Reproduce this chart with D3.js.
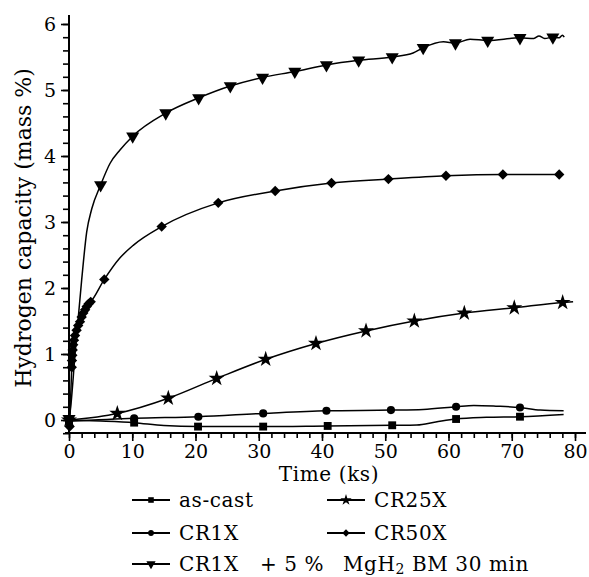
<!DOCTYPE html>
<html>
<head>
<meta charset="utf-8">
<script src="https://cdn.jsdelivr.net/npm/d3@7"></script>
<style>
  body { margin: 0; background: #fff; }
  svg text { font-family: 'DejaVu Serif', serif; fill: #000; }
</style>
</head>
<body>
<svg id="chart" width="589" height="577"></svg>
<script>
// marker points (time ks, capacity mass %) and extra curve-only points
const asCastMarks = [[0, 0], [10.3, -0.04], [20.4, -0.10], [30.7, -0.10], [40.9, -0.09], [51.1, -0.08], [61.2, 0.015], [71.3, 0.05]];
const asCastCurve = [[5, -0.015], [15, -0.085], [55, -0.075], [58, -0.03], [66, 0.04], [78.2, 0.085]];

const cr1Marks = [[0, -0.02], [10.3, 0.025], [20.45, 0.05], [30.7, 0.10], [40.7, 0.14], [50.9, 0.15], [61.2, 0.20], [71.3, 0.19]];
const cr1Curve = [[56, 0.16], [64, 0.22], [67.5, 0.21], [74.5, 0.15], [78.2, 0.14]];

const cr25Marks = [[0, 0], [7.64, 0.10], [15.7, 0.33], [23.35, 0.63], [31.1, 0.92], [39.05, 1.16], [46.96, 1.35], [54.6, 1.50], [62.5, 1.62], [70.4, 1.70], [78.05, 1.78]];
const cr25Curve = [[79.7, 1.79]];

const cr50Marks = [[0.1, -0.1], [0.43, 0.80], [0.47, 0.9], [0.52, 0.98], [0.58, 1.06], [0.66, 1.14], [0.79, 1.21], [0.95, 1.28], [1.2, 1.36], [1.45, 1.43], [1.74, 1.49], [2.0, 1.56], [2.26, 1.62], [2.55, 1.67], [2.8, 1.72], [3.1, 1.76], [3.43, 1.79], [5.58, 2.13], [14.65, 2.93], [23.6, 3.29], [32.6, 3.47], [41.5, 3.59], [50.5, 3.65], [59.6, 3.70], [68.6, 3.72], [77.5, 3.72]];
const cr50Curve = [[8, 2.45], [10.2, 2.65]];

const mgMarks = [[0, 0.02], [5.0, 3.56], [10.07, 4.30], [15.3, 4.65], [20.5, 4.88], [25.5, 5.06], [30.6, 5.19], [35.7, 5.28], [40.7, 5.38], [45.8, 5.45], [51.1, 5.50], [56.0, 5.64], [61.1, 5.71], [66.2, 5.75], [71.3, 5.79], [76.5, 5.80]];
const mgCurve = [[0.16, 0.11], [1.0, 1.05], [2.0, 2.12], [2.8, 2.85], [3.6, 3.2], [6.5, 3.89], [8.06, 4.09], [54.4, 5.56], [59.2, 5.73], [63.4, 5.77], [73.5, 5.78], [74.3, 5.82], [75.2, 5.78], [77.5, 5.79], [78.0, 5.83], [78.3, 5.80]];

const xMajor = [0, 10, 20, 30, 40, 50, 60, 70, 80];
const yMajor = [0, 1, 2, 3, 4, 5, 6];

const svg = d3.select('#chart');
const x = d3.scaleLinear().domain([0, 80]).range([69, 575]);
const y = d3.scaleLinear().domain([0, 6]).range([420, 24]);

// axes
const yMinor = d3.range(-1, 31).map(i => i * 0.2);
const xMinor = d3.range(0, 41).map(i => i * 2);

svg.append('g').attr('transform', 'translate(69,0)')
  .call(d3.axisLeft(y).tickValues(yMinor).tickSize(6).tickFormat(''))
  .call(g => g.select('.domain').remove())
  .call(g => g.selectAll('line').attr('stroke-width', 1.6));
svg.append('g').attr('transform', 'translate(69,0)')
  .call(d3.axisLeft(y).tickValues(yMajor).tickSize(8).tickPadding(5).tickFormat(d3.format('d')))
  .call(g => g.select('.domain').remove())
  .call(g => g.selectAll('line').attr('stroke-width', 1.6))
  .call(g => g.selectAll('text').style('font-size', '19px').style('font-family', "'DejaVu Serif', serif"));

svg.append('g').attr('transform', 'translate(0,433)')
  .call(d3.axisBottom(x).tickValues(xMinor).tickSize(5).tickFormat(''))
  .call(g => g.select('.domain').remove())
  .call(g => g.selectAll('line').attr('stroke-width', 1.6));
svg.append('g').attr('transform', 'translate(0,433)')
  .call(d3.axisBottom(x).tickValues(xMajor).tickSize(8).tickPadding(4).tickFormat(d3.format('d')))
  .call(g => g.select('.domain').remove())
  .call(g => g.selectAll('line').attr('stroke-width', 1.6))
  .call(g => g.selectAll('text').style('font-size', '19px').style('font-family', "'DejaVu Serif', serif"));

svg.append('line').attr('x1', 69).attr('x2', 69).attr('y1', 15).attr('y2', 434)
  .attr('stroke', '#000').attr('stroke-width', 2);
svg.append('line').attr('x1', 65).attr('x2', 586).attr('y1', 433).attr('y2', 433)
  .attr('stroke', '#000').attr('stroke-width', 2);

// axis titles
svg.append('text').attr('x', 329).attr('y', 481).attr('text-anchor', 'middle')
  .style('font-size', '20px').style('letter-spacing', '0.6px').text('Time (ks)');
svg.append('text').attr('transform', 'translate(31,228) rotate(-90)').attr('text-anchor', 'middle')
  .attr('fill', '#000').style('font-size', '22px').text('Hydrogen capacity (mass %)');

// series
const series = [
  { marks: asCastMarks, curve: asCastCurve, sym: d3.symbolSquare, size: 62, rot: 0 },
  { marks: cr1Marks, curve: cr1Curve, sym: d3.symbolCircle, size: 52, rot: 0 },
  { marks: cr25Marks, curve: cr25Curve, sym: d3.symbolStar, size: 80, rot: 0 },
  { marks: cr50Marks, curve: cr50Curve, sym: d3.symbolSquare, size: 54, rot: 45 },
  { marks: mgMarks, curve: mgCurve, sym: d3.symbolTriangle, size: 74, rot: 180 }
];

const line = d3.line().x(d => x(d[0])).y(d => y(d[1])).curve(d3.curveMonotoneX);

series.forEach(s => {
  const pts = s.marks.concat(s.curve).sort((a, b) => a[0] - b[0]);
  svg.append('path').attr('d', line(pts)).attr('fill', 'none')
    .attr('stroke', '#000').attr('stroke-width', 1.5);
});
series.forEach(s => {
  svg.append('g').selectAll('path').data(s.marks).enter().append('path')
    .attr('d', d3.symbol(s.sym, s.size))
    .attr('transform', d => `translate(${x(d[0])},${y(d[1])}) rotate(${s.rot})`)
    .attr('fill', '#000');
});

// legend
const legendItems = [
  { s: series[0], lx: 132, ty: 500, label: 'as-cast' },
  { s: series[2], lx: 327, ty: 500, label: 'CR25X' },
  { s: series[1], lx: 132, ty: 533, label: 'CR1X' },
  { s: series[3], lx: 327, ty: 533, label: 'CR50X' },
  { s: series[4], lx: 132, ty: 564, label: null }
];
legendItems.forEach(it => {
  const g = svg.append('g');
  g.append('line').attr('x1', it.lx).attr('x2', it.lx + 38).attr('y1', it.ty).attr('y2', it.ty)
    .attr('stroke', '#000').attr('stroke-width', 2);
  g.append('path').attr('d', d3.symbol(it.s.sym, it.s.size * 0.5))
    .attr('transform', `translate(${it.lx + 19},${it.ty}) rotate(${it.s.rot})`).attr('fill', '#000');
  if (it.label) {
    g.append('text').attr('x', it.lx + 47).attr('y', it.ty + 7).style('font-size', '20px')
      .style('letter-spacing', '0.6px').text(it.label);
  }
});
const last = svg.append('g').style('font-size', '20px').style('letter-spacing', '0.6px');
last.append('text').attr('x', 179).attr('y', 571).text('CR1X');
last.append('text').attr('x', 260).attr('y', 571).text('+ 5 %');
const mg = last.append('text').attr('x', 343).attr('y', 571);
mg.append('tspan').text('MgH');
mg.append('tspan').attr('dy', 3).style('font-size', '14px').text('2');
mg.append('tspan').attr('dy', -3).text(' BM 30 min');
</script>
</body>
</html>
